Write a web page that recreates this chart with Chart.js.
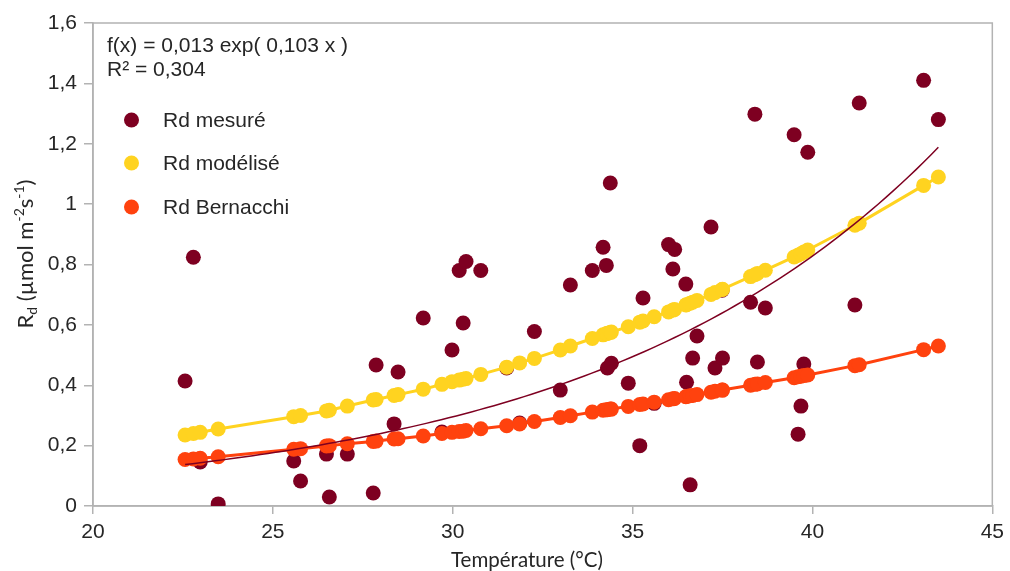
<!DOCTYPE html>
<html>
<head>
<meta charset="utf-8">
<script src="https://cdn.jsdelivr.net/npm/chart.js@4.4.1/dist/chart.umd.min.js"></script>
<style>
  html, body { margin: 0; padding: 0; background: #ffffff; }
  #wrap { width: 1010px; height: 571px; }
</style>
</head>
<body>
<div id="wrap"><canvas id="chart" width="1010" height="571"></canvas></div>
<script>
// Leaf temperature (°C) of each measurement
const temperature = [
  22.56, 22.79, 22.98, 23.48, 25.58, 25.77, 26.49, 26.57, 27.07, 27.79,
  27.87, 28.37, 28.48, 29.18, 29.70, 29.98, 30.18, 30.29, 30.37, 30.78,
  31.50, 31.86, 32.27, 32.99, 33.27, 33.88, 34.18, 34.27, 34.30, 34.38,
  34.41, 34.88, 35.20, 35.29, 35.60, 36.00, 36.12, 36.17, 36.48, 36.50,
  36.60, 36.67, 36.79, 37.18, 37.29, 37.49, 37.50, 38.28, 38.40, 38.47,
  38.69, 39.49, 39.60, 39.68, 39.76, 39.87, 41.18, 41.30, 43.09, 43.50
];

// Measured dark respiration (µmol m-2 s-1)
const rdMeasured = [
  0.414, 0.824, 0.146, 0.007, 0.149, 0.083, 0.172, 0.030, 0.172, 0.043,
  0.467, 0.272, 0.444, 0.623, 0.245, 0.517, 0.780, 0.606, 0.810, 0.780,
  0.457, 0.275, 0.578, 0.384, 0.732, 0.780, 0.857, 0.797, 0.457, 1.070,
  0.473, 0.407, 0.200, 0.689, 0.340, 0.866, 0.785, 0.850, 0.735, 0.410,
  0.070, 0.490, 0.563, 0.924, 0.457, 0.715, 0.490, 0.675, 1.298, 0.477,
  0.656, 1.230, 0.238, 0.331, 0.470, 1.172, 0.666, 1.335, 1.410, 1.280
];

// Modelled dark respiration at the same temperatures
const rdModeled = [
  0.235, 0.240, 0.244, 0.255, 0.296, 0.300, 0.315, 0.317, 0.331, 0.351,
  0.353, 0.366, 0.369, 0.387, 0.403, 0.412, 0.417, 0.420, 0.422, 0.436,
  0.460, 0.474, 0.489, 0.517, 0.530, 0.555, 0.567, 0.571, 0.572, 0.575,
  0.576, 0.594, 0.609, 0.613, 0.627, 0.643, 0.649, 0.651, 0.666, 0.667,
  0.672, 0.675, 0.681, 0.701, 0.707, 0.717, 0.718, 0.760, 0.766, 0.770,
  0.781, 0.825, 0.831, 0.836, 0.841, 0.848, 0.930, 0.937, 1.062, 1.090
];

// Bernacchi temperature response at the same temperatures
const rdBernacchi = [
  0.154, 0.156, 0.158, 0.163, 0.188, 0.190, 0.199, 0.200, 0.206, 0.214,
  0.215, 0.222, 0.223, 0.232, 0.240, 0.244, 0.247, 0.248, 0.250, 0.256,
  0.266, 0.272, 0.280, 0.293, 0.299, 0.311, 0.317, 0.319, 0.319, 0.321,
  0.321, 0.330, 0.336, 0.338, 0.344, 0.352, 0.355, 0.356, 0.362, 0.363,
  0.365, 0.366, 0.369, 0.377, 0.380, 0.384, 0.384, 0.400, 0.403, 0.404,
  0.409, 0.425, 0.428, 0.430, 0.432, 0.434, 0.465, 0.468, 0.518, 0.530
];

const seriesNames = ['Rd mesuré', 'Rd modélisé', 'Rd Bernacchi'];
const seriesColors = ['#7e0021', '#ffd320', '#ff420e'];

// Exponential trend line of the measured series: f(x) = a·exp(b·x)
const trendA = 0.0134;
const trendB = 0.1031;
const fitLines = ['f(x) = 0,013 exp( 0,103 x )', 'R² = 0,304'];

const xTicks = [20, 25, 30, 35, 40, 45];
const yTicks = [0, 0.2, 0.4, 0.6, 0.8, 1.0, 1.2, 1.4, 1.6];

const xTitle = 'Température (°C)';

const toPoints = ys => temperature.map((t, i) => ({ x: t, y: ys[i] }));

const tMin = Math.min(...temperature), tMax = Math.max(...temperature);
const trendPoints = [];
for (let k = 0; k <= 100; k++) {
  const t = tMin + (tMax - tMin) * k / 100;
  trendPoints.push({ x: t, y: trendA * Math.exp(trendB * t) });
}

const fmt = v => (Math.round(v * 10) / 10).toString().replace('.', ',');

const TICK_FONT = { family: 'Liberation Sans', size: 21 };
const TEXT_COLOR = '#262626';

const overlay = {
  id: 'overlay',
  beforeDatasetsDraw(chart) {
    const { ctx, chartArea: a } = chart;
    ctx.save();
    ctx.strokeStyle = '#b3b3b3';
    ctx.lineWidth = 1.5;
    ctx.strokeRect(a.left, a.top, a.right - a.left, a.bottom - a.top);
    ctx.restore();
  },
  afterDraw(chart) {
    const { ctx } = chart;
    ctx.save();
    ctx.fillStyle = TEXT_COLOR;
    ctx.textBaseline = 'alphabetic';
    ctx.textAlign = 'left';

    // regression equation
    ctx.font = '21px "Liberation Sans"';
    ctx.fillText(fitLines[0], 107, 52);
    ctx.fillText(fitLines[1], 107, 76);

    // legend
    ctx.font = '21px "Liberation Sans"';
    ctx.textBaseline = 'middle';
    const ly = [120, 163, 207];
    seriesNames.forEach((name, i) => {
      ctx.fillStyle = seriesColors[i];
      ctx.beginPath();
      ctx.arc(131.5, ly[i], 7.5, 0, Math.PI * 2);
      ctx.fill();
      ctx.fillStyle = TEXT_COLOR;
      ctx.fillText(name, 163, ly[i] + 1);
    });

    // x axis title
    ctx.font = '20.5px Lato';
    ctx.textAlign = 'center';
    ctx.textBaseline = 'alphabetic';
    ctx.fillStyle = TEXT_COLOR;
    ctx.fillText(xTitle, 527, 567);

    // y axis title with sub/superscripts, rotated
    const parts = [
      { t: 'R', s: 22, dy: 0 },
      { t: 'd', s: 14, dy: 4 },
      { t: ' (µmol m', s: 22, dy: 0 },
      { t: '-2', s: 14, dy: -9 },
      { t: 's', s: 22, dy: 0 },
      { t: '-1', s: 14, dy: -9 },
      { t: ')', s: 22, dy: 0 }
    ];
    let total = 0;
    parts.forEach(p => { ctx.font = p.s + 'px Lato'; p.w = ctx.measureText(p.t).width; total += p.w; });
    ctx.translate(33, 254);
    ctx.rotate(-Math.PI / 2);
    ctx.textAlign = 'left';
    let x = -total / 2;
    parts.forEach(p => {
      ctx.font = p.s + 'px Lato';
      ctx.fillText(p.t, x, p.dy);
      x += p.w;
    });
    ctx.restore();
  }
};

new Chart(document.getElementById('chart'), {
  type: 'scatter',
  data: {
    datasets: [
      {
        label: 'tendance',
        data: trendPoints,
        showLine: true,
        borderColor: '#7e0021',
        borderWidth: 1.5,
        pointRadius: 0,
        order: 0
      },
      {
        label: seriesNames[2],
        data: toPoints(rdBernacchi),
        showLine: true,
        borderColor: seriesColors[2],
        backgroundColor: seriesColors[2],
        borderWidth: 3,
        pointRadius: 7.5,
        pointBorderWidth: 0,
        order: 1
      },
      {
        label: seriesNames[1],
        data: toPoints(rdModeled),
        showLine: true,
        borderColor: seriesColors[1],
        backgroundColor: seriesColors[1],
        borderWidth: 3,
        pointRadius: 7.5,
        pointBorderWidth: 0,
        order: 2
      },
      {
        label: seriesNames[0],
        data: toPoints(rdMeasured),
        showLine: false,
        backgroundColor: seriesColors[0],
        borderColor: seriesColors[0],
        pointRadius: 7.5,
        pointBorderWidth: 0,
        order: 3
      }
    ]
  },
  options: {
    responsive: false,
    animation: false,
    events: [],
    layout: { padding: { top: 23, right: 13, left: 0, bottom: 0 } },
    plugins: { legend: { display: false }, tooltip: { enabled: false } },
    scales: {
      x: {
        type: 'linear',
        min: xTicks[0],
        max: xTicks[xTicks.length - 1],
        afterBuildTicks: s => { s.ticks = xTicks.map(v => ({ value: v })); },
        afterFit: s => { s.height = 65; },
        grid: { drawOnChartArea: false, drawTicks: true, tickLength: 8, color: '#b3b3b3', lineWidth: 1.5 },
        border: { display: true, color: '#b3b3b3', width: 1.5 },
        ticks: { font: TICK_FONT, color: TEXT_COLOR, padding: 6, maxRotation: 0, callback: v => fmt(v) }
      },
      y: {
        type: 'linear',
        min: yTicks[0],
        max: yTicks[yTicks.length - 1],
        afterBuildTicks: s => { s.ticks = yTicks.map(v => ({ value: v })); },
        afterFit: s => { s.width = 93; },
        grid: { drawOnChartArea: false, drawTicks: true, tickLength: 9, color: '#b3b3b3', lineWidth: 1.5 },
        border: { display: true, color: '#b3b3b3', width: 1.5 },
        ticks: { font: TICK_FONT, color: TEXT_COLOR, padding: 7, callback: v => fmt(v) }
      }
    }
  },
  plugins: [overlay]
});
</script>
</body>
</html>
